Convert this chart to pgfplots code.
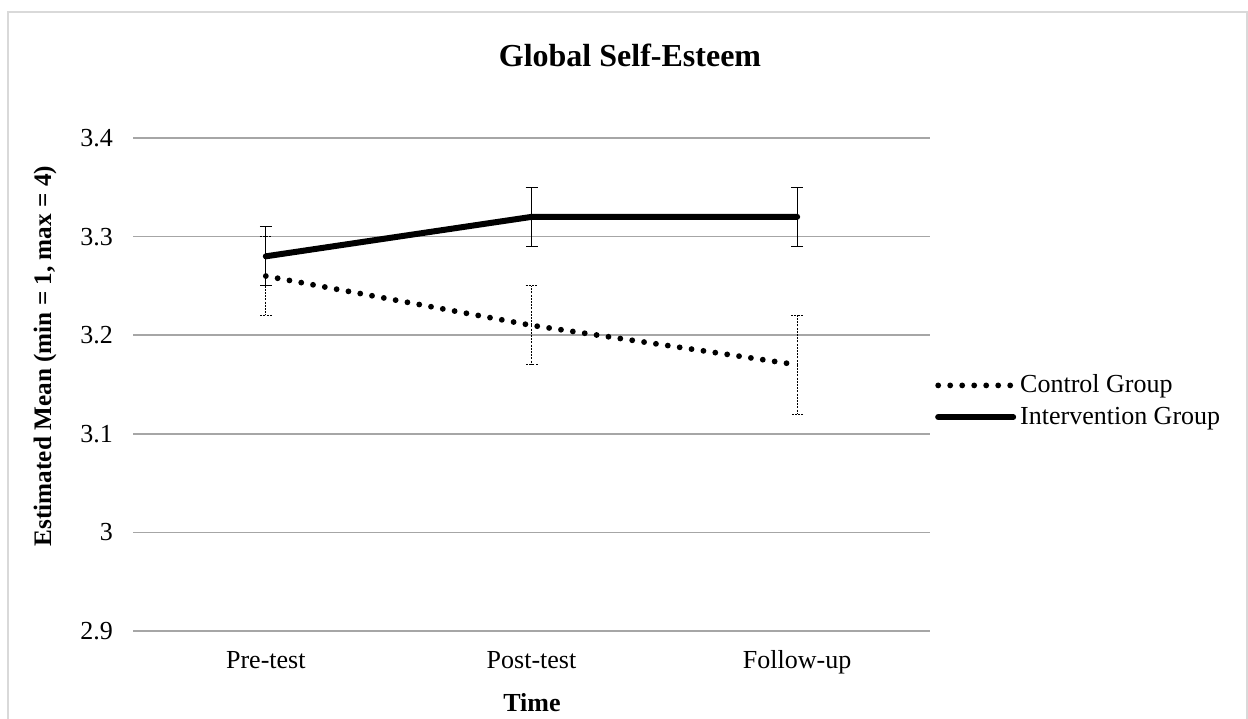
\documentclass[border=0pt]{standalone}
\usepackage{fontspec}
\setmainfont{Liberation Serif}
\usepackage{pgfplots}
\pgfplotsset{compat=1.18}
\definecolor{framec}{HTML}{D9D9D9}
\definecolor{gridc}{HTML}{A6A6A6}
\begin{document}
\begin{tikzpicture}
\useasboundingbox (0,0) rectangle (624pt,359pt);
\draw[framec, line width=1pt] (3.75pt,-20pt) rectangle (623.5pt,353pt);
\node[font=\fontsize{16}{19}\selectfont\bfseries] at (315pt,331.5pt) {Global Self-Esteem};
\node[font=\fontsize{12.6}{15}\selectfont\bfseries, rotate=90] at (22.5pt,181pt) {Estimated Mean (min = 1, max = 4)};
\node[font=\fontsize{13}{15}\selectfont\bfseries] at (266pt,7.5pt) {Time};
\begin{axis}[
  at={(66.5pt,43.5pt)}, anchor=south west,
  scale only axis, width=398.5pt, height=246.5pt,
  xmin=-0.5, xmax=2.5, ymin=2.9, ymax=3.4,
  xtick={0,1,2}, xticklabels={Pre-test,Post-test,Follow-up},
  ytick={2.9,3.0,3.1,3.2,3.3,3.4},
  yticklabels={2.9,3,3.1,3.2,3.3,3.4},
  ymajorgrids, grid style={color=gridc, line width=0.75pt},
  axis line style={draw=none}, major tick length=0pt,
  tick label style={font=\fontsize{13}{15}\selectfont},
  yticklabel style={xshift=-6.5pt},
  xticklabel style={yshift=-8pt, text height=0.72em, text depth=0.22em},
  clip=false,
  legend style={at={(axis description cs:1.006,0.4665)}, anchor=west, draw=none, fill=none,
    font=\fontsize{13}{15}\selectfont, row sep=1.5pt, inner sep=0pt,
    cells={anchor=west}},
  legend cell align=left,
  legend image code/.code={\draw[#1] (0pt,0pt) -- (37.5pt,0pt);},
]
\addplot[black, line width=2.9pt, line cap=round, dash pattern=on 0pt off 6pt,
  error bars/.cd, y dir=both, y explicit,
  error bar style={line width=0.55pt, line cap=butt, dash pattern=on 1pt off 0.6pt},
  error mark options={rotate=90, mark size=3pt, line width=0.55pt, line cap=butt, dash pattern=on 1pt off 0.6pt}]
  coordinates {(0,3.26) +- (0,0.04) (1,3.21) +- (0,0.04) (2,3.17) +- (0,0.05)};
\addlegendentry{Control Group}
\addplot[black, line width=3pt, line cap=round,
  error bars/.cd, y dir=both, y explicit,
  error bar style={line width=0.6pt, solid, line cap=butt},
  error mark options={rotate=90, mark size=3pt, line width=0.6pt, solid}]
  coordinates {(0,3.28) +- (0,0.03) (1,3.32) +- (0,0.03) (2,3.32) +- (0,0.03)};
\addlegendentry{Intervention Group}
\end{axis}
\end{tikzpicture}
\end{document}
